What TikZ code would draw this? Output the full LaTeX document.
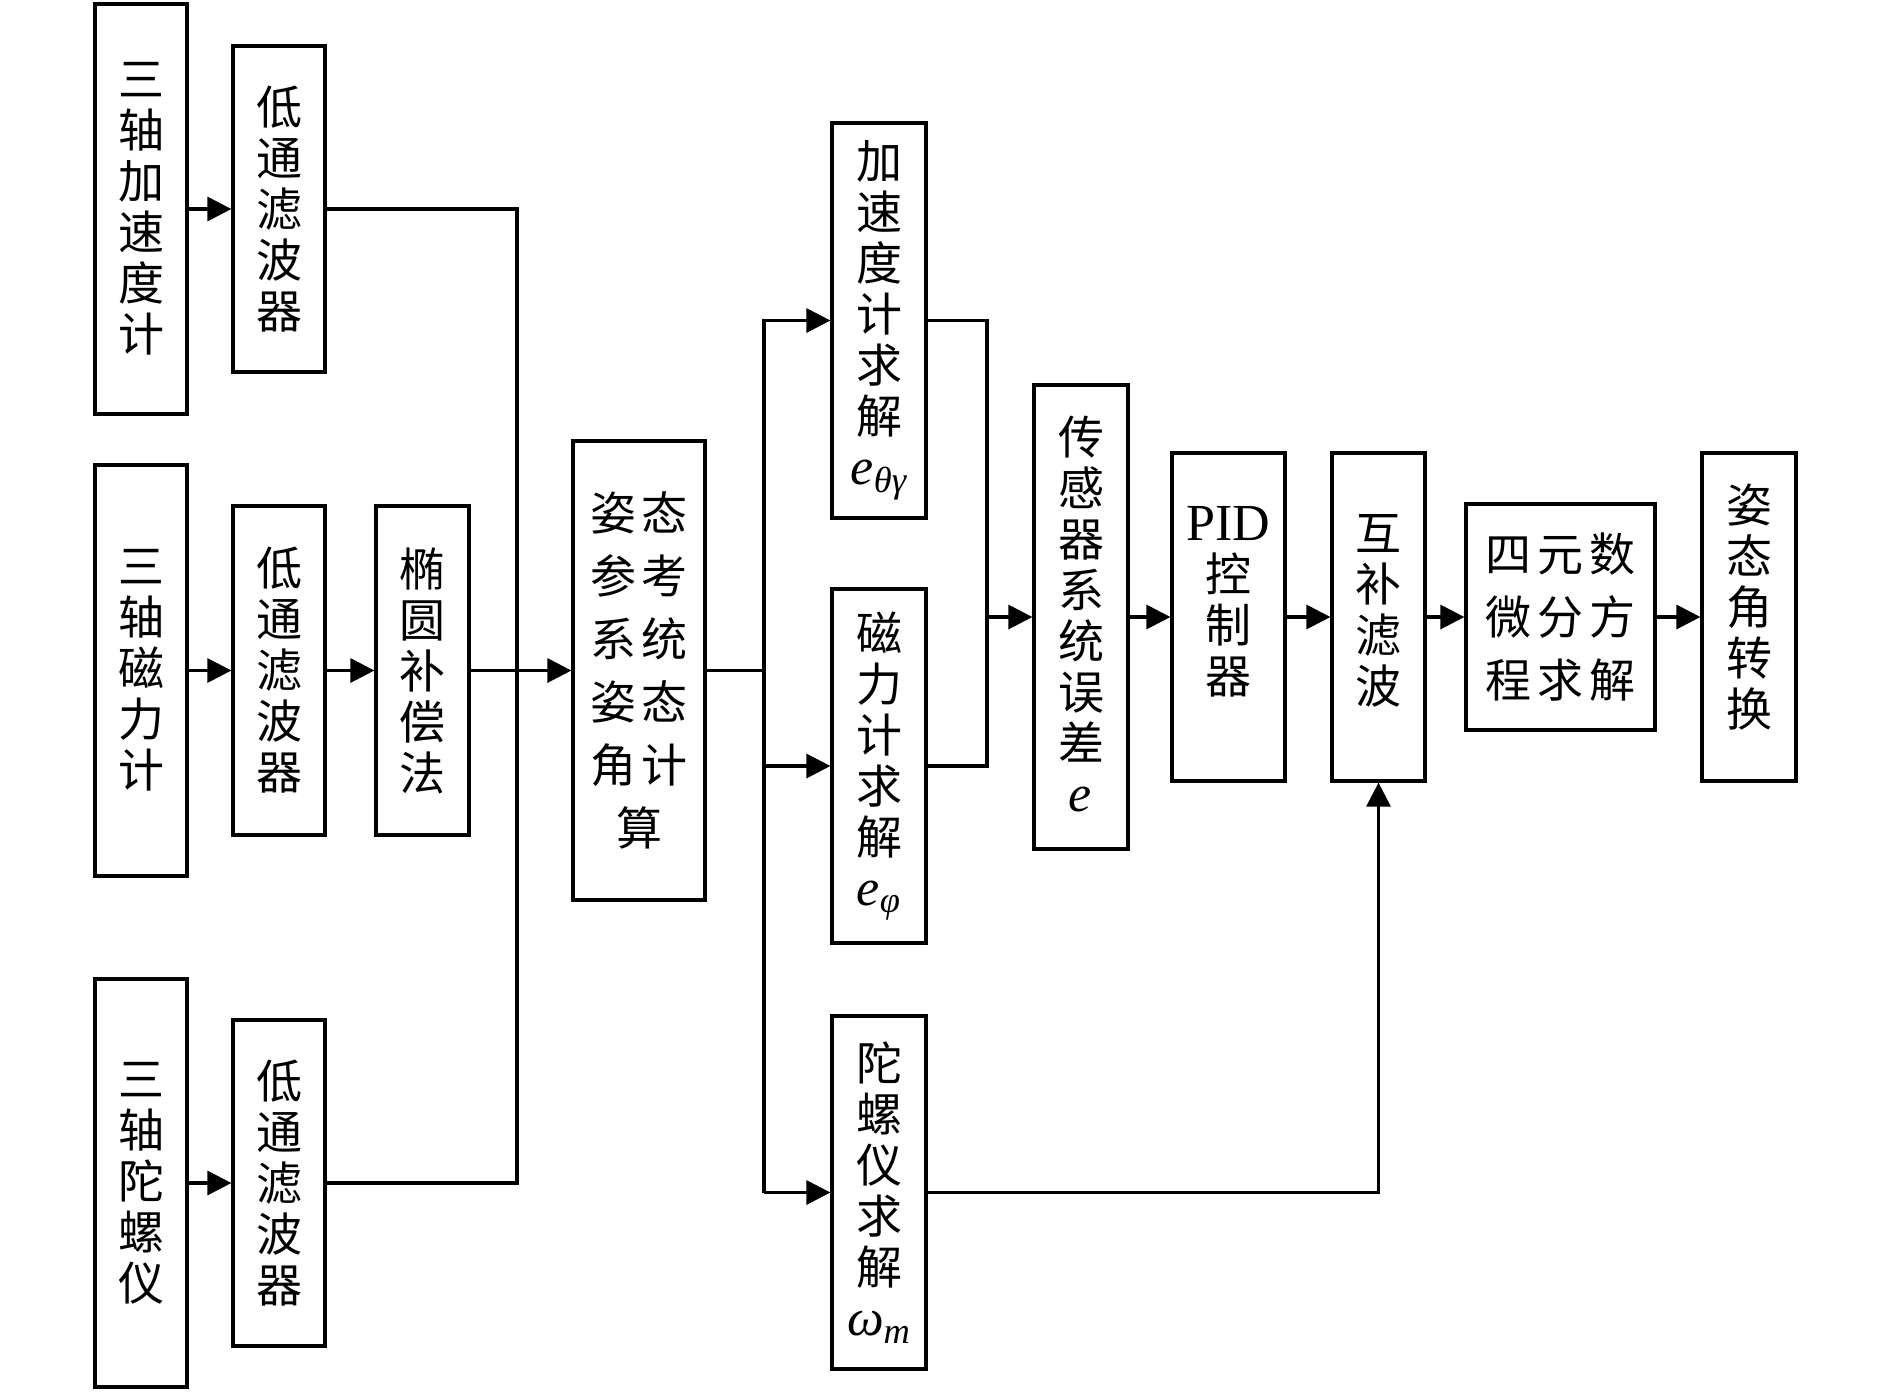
\documentclass[tikz,border=0pt]{standalone}
\usepackage{fontspec}
\newfontfamily\cjk{Noto Sans CJK SC}
\newfontfamily\tms{Liberation Serif}
\usetikzlibrary{arrows.meta}
\tikzset{
 box/.style={draw, line width=1.6pt, inner sep=0pt, align=center, font=\cjk\fontsize{23pt}{25.5pt}\selectfont},
 hbox/.style={box, font=\cjk\fontsize{23pt}{31.5pt}\selectfont},
 arr/.style={line width=1.6pt, -{Triangle[length=12pt,width=12pt]}},
 ln/.style={line width=1.6pt},
}
\newcommand\mkbox[7][box]{\node[#1, minimum width={(#5-#3)*0.5pt}, minimum height={(#6-#4)*0.5pt}] (#2) at ({(#3+#5)/2},{(#4+#6)/2}) {#7};}
\newcommand\mi[2]{{\tms\itshape\fontsize{26pt}{25pt}\selectfont #1\textsubscript{#2}}}
\newcommand\gp{\hspace{3pt}}
\begin{document}
\begin{tikzpicture}[x=0.5pt,y=-0.5pt]
\useasboundingbox (0,0) rectangle (1890,1394);
\mkbox{A1}{95}{4}{187}{414}{三\\轴\\加\\速\\度\\计}
\mkbox{LPF1}{233}{46}{325}{372}{低\\通\\滤\\波\\器}
\mkbox{M1}{95}{465}{187}{876}{三\\轴\\磁\\力\\计}
\mkbox{LPF2}{233}{506}{325}{835}{低\\通\\滤\\波\\器}
\mkbox{ELL}{376}{506}{469}{835}{椭\\圆\\补\\偿\\法}
\mkbox{G1}{95}{979}{187}{1387}{三\\轴\\陀\\螺\\仪}
\mkbox{LPF3}{233}{1020}{325}{1346}{低\\通\\滤\\波\\器}
\mkbox[hbox]{ATT}{573}{441}{705}{900}{姿\gp 态\\参\gp 考\\系\gp 统\\姿\gp 态\\角\gp 计\\算}
\mkbox{ACC}{832}{123}{926}{518}{加\\速\\度\\计\\求\\解\\\mi{e}{θγ}}
\mkbox{MAG}{832}{589}{926}{943}{磁\\力\\计\\求\\解\\\mi{e}{φ}}
\mkbox{GYR}{832}{1016}{926}{1369}{陀\\螺\\仪\\求\\解\\\mi{ω}{m}}
\mkbox{SENS}{1034}{385}{1128}{849}{传\\感\\器\\系\\统\\误\\差\\\mi{e}{}}
\mkbox{PID}{1172}{453}{1285}{781}{{\tms\fontsize{26pt}{26pt}\selectfont PID}\\控\\制\\器\\[-8.5pt]}
\mkbox{CF}{1332}{453}{1425}{781}{互\\补\\滤\\波\\[-17.5pt]}
\mkbox[hbox]{Q}{1466}{504}{1655}{730}{四\gp 元\gp 数\\微\gp 分\gp 方\\程\gp 求\gp 解}
\mkbox{AC}{1702}{453}{1796}{781}{姿\\态\\角\\转\\换\\[-13.5pt]}
\coordinate (bus) at (517,0);
\coordinate (bus2) at (764,0);
\coordinate (jx) at (987,0);
% left section
\draw[arr] (A1.east) -- (LPF1.west);
\draw[arr] (M1.east) -- (LPF2.west);
\draw[arr] (LPF2.east) -- (ELL.west);
\draw[arr] (G1.east) -- (LPF3.west);
\draw[ln] (LPF1.east) -- (LPF1.east -| bus) -- (LPF3.east -| bus) -- (LPF3.east);
\draw[arr] (ELL.east) -- (ELL.east -| ATT.west);
% branch to solvers
\draw[ln] (ATT.east) -- (ATT.east -| bus2);
\draw[arr] (GYR.west -| bus2) |- (ACC.west);
\draw[arr] (MAG.west -| bus2) -- (MAG.west);
\draw[arr] (GYR.west -| bus2) -- (GYR.west);
% merge
\draw[ln] (ACC.east) -- (ACC.east -| jx) -- (MAG.east -| jx) -- (MAG.east);
\draw[arr] (SENS.west -| jx) -- (SENS.west);
\draw[arr] (SENS.east) -- (SENS.east -| PID.west);
\draw[arr] (PID.east) -- (CF.west);
\draw[arr] (CF.east) -- (CF.east -| Q.west);
\draw[arr] (Q.east) -- (Q.east -| AC.west);
\draw[arr] (GYR.east) -| (CF.south);
\end{tikzpicture}
\end{document}
